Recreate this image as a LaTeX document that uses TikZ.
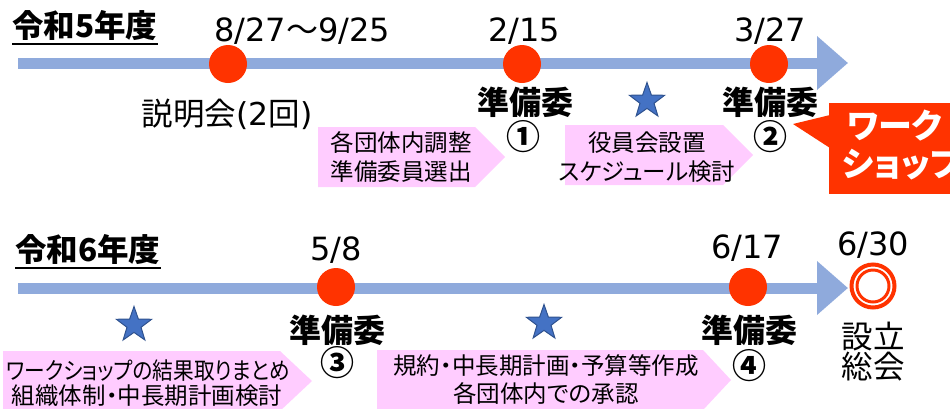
\documentclass[tikz,border=0pt]{standalone}
\usepackage{fontspec}
\setmainfont{DejaVu Sans}
\newfontfamily\jp[RawFeature=+palt]{Noto Sans CJK JP}
\usetikzlibrary{shapes.geometric,arrows.meta}
\definecolor{lineblue}{HTML}{8FAADC}
\definecolor{dotred}{HTML}{FF3300}
\definecolor{boxpink}{HTML}{FFCCFF}
\definecolor{starblue}{HTML}{4472C4}
\definecolor{stardark}{HTML}{2F528F}
\tikzset{
  txt/.style={inner sep=0pt, text=black},
  datelbl/.style={txt, font=\fontsize{32}{32}\selectfont},
  headlbl/.style={txt, font=\fontsize{31.5}{31.5}\selectfont\bfseries\jp},
  junbi/.style={txt, font=\fontsize{32}{32}\selectfont\bfseries\jp},
  circnum/.style={txt, font=\fontsize{34}{34}\selectfont\bfseries\jp},
  bigjp/.style={txt, font=\fontsize{31.5}{31.5}\selectfont\jp},
  boxjp/.style={txt, font=\fontsize{23.5}{23.5}\selectfont\jp},
  callout/.style={inner sep=0pt, text=white, font=\fontsize{34}{34}\selectfont\bfseries\jp},
  dot/.style={circle, fill=dotred, minimum size=38pt, inner sep=0pt},
  starmark/.style={star, star points=5, star point ratio=2.5, fill=starblue, draw=stardark, line width=1pt, minimum size=37pt, inner sep=0pt},
  timeline/.style={lineblue, line width=11pt, -{Triangle[length=31pt,width=52pt]}},
  pinkbox/.style={fill=boxpink},
  uline/.style={line width=1.6pt, black}
}
\begin{document}
\begin{tikzpicture}[x=1pt,y=-1pt]
\useasboundingbox (0,0) rectangle (950,408);
\clip (0,0) rectangle (950,408);

% ---------- top row ----------
\node[headlbl, anchor=west] (h5) at (12,26) {令和5年度};
\draw[uline] ([yshift=-3pt]h5.south west) -- ([yshift=-3pt]h5.south east);

\coordinate (t1s) at (18,63);
\coordinate (t1e) at (848,63);
\draw[timeline] (t1s) -- (t1e);

% pink boxes (top)
\fill[pinkbox] (318,127) -- (475,127) -- (505,157) -- (475,187) -- (318,187) -- cycle;
\fill[pinkbox] (565,125) -- (723,125) -- (753,155) -- (723,185) -- (565,185) -- cycle;
\node[boxjp] (b1a) at (401,143) {各団体内調整};
\node[boxjp] (b1b) at (401,172) {準備委員選出};
\node[boxjp] (b2a) at (647,143) {役員会設置};
\node[boxjp] (b2b) at (647,172) {スケジュール検討};

\node[dot] (d1) at (228,64) {};
\node[dot] (d2) at (522,64) {};
\node[dot] (d3) at (769,64) {};

\node[datelbl] (l1) at (302,31) {8/27{\jp ～}9/25};
\node[datelbl] (l2) at (524,31) {2/15};
\node[datelbl] (l3) at (770,31) {3/27};

\node[bigjp] (s1) at (227,114) {説明会{\rmfamily (2}回{\rmfamily )}};

\node[junbi] (j1) at (525,102) {準備委};
\node[circnum] (c1) at (523,137) {①};
\node[junbi] (j2) at (770,102) {準備委};
\node[circnum] (c2) at (770,137) {②};

\node[starmark] (st1) at (647,101) {};

% callout
\fill[dotred] (829,103) rectangle (960,194);
\fill[dotred] (793,124) -- (830,115) -- (830,148) -- cycle;
\node[callout, anchor=west] (w1) at (847,126) {ワーク};
\node[callout, anchor=west] (w2) at (842,164) {ショップ};

% ---------- bottom row ----------
\node[headlbl, anchor=west] (h6) at (15,250) {令和6年度};
\draw[uline] ([yshift=-3pt]h6.south west) -- ([yshift=-3pt]h6.south east);

\coordinate (t2s) at (18,288);
\coordinate (t2e) at (848,288);
\draw[timeline] (t2s) -- (t2e);

\fill[pinkbox] (3,351) -- (280,351) -- (312,381) -- (280,411) -- (3,411) -- cycle;
\fill[pinkbox] (377,350) -- (703,350) -- (731,380) -- (703,410) -- (377,410) -- cycle;
\node[boxjp] (b3a) at (148,371) {\scalebox{0.88}[1]{ワークショップの結果取りまとめ}};
\node[boxjp] (b3b) at (147,396) {組織体制・中長期計画検討};
\node[boxjp] (b4a) at (546,366) {規約・中長期計画・予算等作成};
\node[boxjp] (b4b) at (546,394) {各団体内での承認};

\node[dot] (d4) at (336,287) {};
\node[dot] (d5) at (748,287) {};
\node[circle, draw=dotred, line width=4pt, minimum size=43pt, inner sep=0pt] (d6) at (873,286) {};
\node[circle, draw=dotred, line width=3pt, minimum size=32pt, inner sep=0pt] (d6i) at (873,286) {};

\node[datelbl] (l4) at (336,250) {5/8};
\node[datelbl] (l5) at (747,248) {6/17};
\node[datelbl] (l6) at (873,245) {6/30};

\node[junbi] (j3) at (337,330) {準備委};
\node[circnum] (c3) at (337,363) {③};
\node[junbi] (j4) at (749,330) {準備委};
\node[circnum] (c4) at (749,366) {④};

\node[bigjp] (e1) at (873,337) {設立};
\node[bigjp] (e2) at (873,367) {総会};

\node[starmark] (st2) at (134,325) {};
\node[starmark] (st3) at (544,323) {};
\end{tikzpicture}
\end{document}
